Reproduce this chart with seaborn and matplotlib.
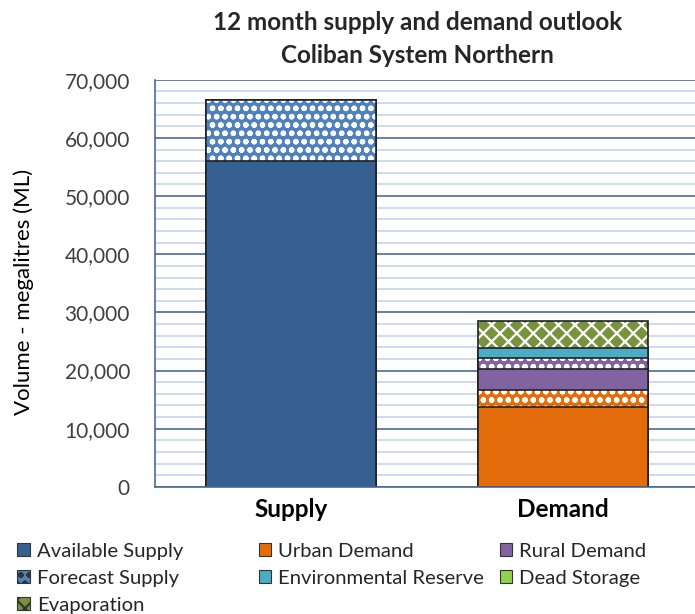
"""12 month supply and demand outlook - Coliban System Northern."""

import matplotlib
matplotlib.use('Agg')
import matplotlib.pyplot as plt
from matplotlib.patches import Patch
from matplotlib.ticker import FuncFormatter, MultipleLocator
import seaborn as sns
import pandas as pd

categories = ['Supply', 'Demand']

# stacked series, bottom to top (ML)
series_names = ['Available Supply', 'Forecast Supply',
                'Urban Demand', 'Urban Demand (forecast)',
                'Rural Demand', 'Rural Demand (forecast)',
                'Environmental Reserve', 'Dead Storage', 'Evaporation']
supply_values = [56000, 10500, 0, 0, 0, 0, 0, 0, 0]
demand_values = [0, 0, 13800, 2900, 3600, 1950, 1700, 0, 4600]

colors = {
    'Available Supply': '#376092',
    'Forecast Supply': '#4F81BD',
    'Urban Demand': '#E46C0A',
    'Urban Demand (forecast)': '#E46C0A',
    'Rural Demand': '#8064A2',
    'Rural Demand (forecast)': '#8064A2',
    'Environmental Reserve': '#4BACC6',
    'Dead Storage': '#92D050',
    'Evaporation': '#77933C',
}
hatches = {
    'Forecast Supply': 'oo',
    'Urban Demand (forecast)': 'oo',
    'Rural Demand (forecast)': 'oo',
    'Evaporation': '\\\\//',
}
# legend laid out as in the original: three separate columns
legend_columns = [
    ['Available Supply', 'Forecast Supply', 'Evaporation'],
    ['Urban Demand', 'Environmental Reserve'],
    ['Rural Demand', 'Dead Storage'],
]
legend_x = [0.025, 0.372, 0.719]

sns.set_theme(style='white')
plt.rcParams['font.family'] = ['Lato', 'DejaVu Sans']
plt.rcParams['hatch.linewidth'] = 1.6

df = pd.DataFrame({'series': series_names,
                   'Supply': supply_values,
                   'Demand': demand_values})
cum = df[categories].cumsum()

fig = plt.figure(figsize=(6.95, 6.14), dpi=100)
ax = fig.add_axes([0.223, 0.207, 0.783, 0.663])

# draw cumulative tops from the top down so each lower segment covers the rest
for i in reversed(range(len(series_names))):
    name = series_names[i]
    tops = cum.iloc[i].values
    if df.loc[i, categories].sum() == 0:
        continue
    hatch = hatches.get(name)
    sns.barplot(x=categories, y=tops, color=colors[name], saturation=1,
                width=0.625, ax=ax, hatch=hatch,
                edgecolor='white' if hatch else colors[name], linewidth=0)
    sns.barplot(x=categories, y=tops, color='#222222', fill=False,
                width=0.625, ax=ax, linewidth=1.2)

ax.set_ylim(0, 70000)
ax.set_xlim(-0.5, 1.5)
ax.yaxis.set_major_locator(MultipleLocator(10000))
ax.yaxis.set_minor_locator(MultipleLocator(2000))
ax.yaxis.set_major_formatter(FuncFormatter(lambda v, p: f'{v:,.0f}'))
ax.grid(axis='y', which='major', color='#4A6A9C', linewidth=1.2)
ax.grid(axis='y', which='minor', color='#C6D6EC', linewidth=1.2)
ax.set_axisbelow(True)
for side in ['top', 'right']:
    ax.spines[side].set_visible(False)
for side in ['left', 'bottom']:
    ax.spines[side].set_color('#4A6A9C')
    ax.spines[side].set_linewidth(1.2)
ax.tick_params(axis='y', labelsize=15, colors='#404040', length=0, pad=18)
ax.tick_params(axis='x', labelsize=17.5, length=0, pad=8)
for lbl in ax.get_xticklabels():
    lbl.set_fontweight('bold')
    lbl.set_color('black')
ax.set_xlabel('')
ax.set_ylabel('Volume - megalitres (ML)', fontsize=16, color='black')
ax.yaxis.set_label_coords(-0.222, 0.48)

fig.text(0.601, 0.964, '12 month supply and demand outlook', ha='center',
         va='center', fontsize=17.5, fontweight='bold')
fig.text(0.601, 0.910, 'Coliban System Northern', ha='center',
         va='center', fontsize=17.5, fontweight='bold')

for names, x0 in zip(legend_columns, legend_x):
    handles = [Patch(facecolor=colors[n], edgecolor='#333333', linewidth=0.8,
                     hatch=hatches.get(n), label=n) for n in names]
    fig.legend(handles=handles, loc='upper left', bbox_to_anchor=(x0, 0.116),
               ncol=1, frameon=False, fontsize=14.6, handlelength=0.6,
               handleheight=0.6, handletextpad=0.35, labelspacing=0.5,
               borderaxespad=0, borderpad=0)

plt.savefig('out.png', dpi=100)
plt.close()
